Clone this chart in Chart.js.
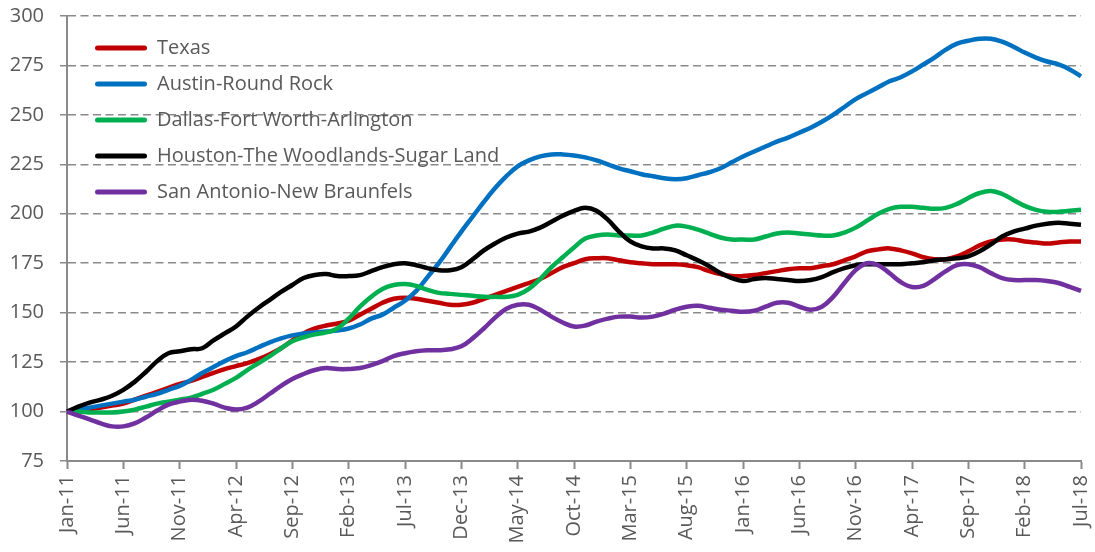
<!DOCTYPE html>
<html>
<head>
<meta charset="utf-8">
<script src="https://cdn.jsdelivr.net/npm/chart.js@4.4.0/dist/chart.umd.min.js"></script>
<style>
  html, body { margin: 0; padding: 0; background: #fff; }
  canvas { display: block; }
</style>
</head>
<body>
<canvas id="chart" width="1095" height="552"></canvas>
<script>
// months Jan-11 .. Jul-18
const monthNames = ['Jan', 'Feb', 'Mar', 'Apr', 'May', 'Jun', 'Jul', 'Aug', 'Sep', 'Oct', 'Nov', 'Dec'];
const labels = [];
for (let y = 11; y <= 18; y++) {
  monthNames.forEach((m, i) => {
    if (y === 18 && i > 6) return;
    labels.push(m + '-' + y);
  });
}

const seriesNames = ['Texas', 'Austin-Round Rock', 'Dallas-Fort Worth-Arlington', 'Houston-The Woodlands-Sugar Land', 'San Antonio-New Braunfels'];
const seriesColors = ['#C00000', '#0070C0', '#00B050', '#000000', '#7030A0'];

const texas = [
  100, 100, 101, 102, 103, 104, 106, 108, 110, 112,
  114, 115.5, 117.5, 119.5, 121.5, 123, 124.5, 126.5, 129, 132,
  136, 139.5, 142, 143.5, 144.5, 146, 149, 152, 155, 157,
  157.5, 157, 156, 155, 154, 154, 155, 157, 159, 161,
  163, 165, 167, 170, 173, 175, 177, 177.5, 177.5, 176.5,
  175.5, 175, 174.5, 174.5, 174.5, 174, 173, 171, 169.5, 168.5,
  168.5, 169, 170, 171, 172, 172.5, 172.5, 173.5, 174.5, 176.5,
  178.5, 181, 182, 182.5, 181.5, 180, 178, 177, 177, 178.5,
  181, 184, 186, 187, 187, 186, 185.5, 185, 185.5, 186, 186
];
const austin = [
  100, 101, 102, 103, 104, 105, 106, 107.5, 109, 111,
  113, 116, 119.5, 122.5, 125.5, 128, 130, 132.5, 135, 137,
  138.5, 139.5, 140, 140.5, 141, 142, 144, 147, 149, 152.5,
  156, 161, 168, 175, 183, 191, 198.5, 206, 213, 219,
  224, 227, 229, 230, 230, 229.5, 228.5, 227, 225, 223,
  221.5, 220, 219, 218, 217.5, 218, 219.5, 221, 223, 226,
  229, 231.5, 234, 236.5, 238.5, 241, 243.5, 246.5, 250, 254,
  258, 261, 264, 267, 269, 272, 275.5, 279, 283, 286,
  287.5, 288.5, 288.5, 287, 284.5, 281.5, 279, 277, 275.5, 273, 269.5
];
const dallas = [
  100, 100, 99.5, 99.5, 99.5, 100, 101, 102.5, 104, 105,
  106, 107, 109, 111, 114, 117, 121, 124.5, 128, 132,
  135.5, 137.5, 139, 140, 142, 147, 153, 158, 162, 164,
  164.5, 163.5, 161.5, 160, 159.5, 159, 158.5, 158, 158, 158,
  159, 162, 167, 173, 178, 183, 187.5, 189, 189.5, 189,
  189, 189, 190.5, 192.5, 194, 193.5, 192, 190, 188, 187,
  187, 187, 188.5, 190, 190.5, 190, 189.5, 189, 189, 190.5,
  193, 196.5, 200, 202.5, 203.5, 203.5, 203, 202.5, 203, 205,
  208, 210.5, 211.5, 210, 207, 204, 202, 201, 201, 201.5, 202
];
const houston = [
  100, 102.5, 104.5, 106, 108, 111, 115, 120, 125.5, 129.5,
  130.5, 131.5, 132, 136, 139.5, 143, 148, 152.5, 156.5, 160.5,
  164, 167.5, 169, 169.5, 168.5, 168.5, 169, 171, 173, 174.5,
  175, 174, 172.5, 171.5, 171.5, 173, 177, 181.5, 185, 188,
  190, 191, 193, 196, 199, 201.5, 203, 201.5, 197, 191,
  186, 183.5, 182.5, 182.5, 181.5, 179, 176.5, 173.5, 170, 167.5,
  166, 167, 167.5, 167, 166.5, 166, 166.5, 168, 170.5, 172.5,
  174, 174.5, 174.5, 174.5, 174.5, 175, 175.5, 176.5, 177, 177.5,
  178.5, 181, 184.5, 188.5, 191, 192.5, 194, 195, 195.5, 195, 194.5
];
const sanAntonio = [
  100, 98, 96, 94, 92.5, 92.5, 94, 97, 100.5, 103.5,
  105, 106, 105.5, 104, 102, 101, 102, 105, 109, 113,
  116.5, 119, 121, 122, 121.5, 121.5, 122, 123.5, 125.5, 128,
  129.5, 130.5, 131, 131, 131.5, 133, 137, 142, 147.5, 152,
  154, 154, 151.5, 148, 145, 143, 143.5, 145.5, 147, 148,
  148, 147.5, 148, 149.5, 151.5, 153, 153.5, 152.5, 151.5, 151,
  150.5, 151, 153, 155, 155, 153, 151.5, 153, 158, 165,
  171.5, 175, 174, 170, 165.5, 163, 163.5, 167, 171, 174,
  174.5, 173, 170, 167.5, 166.5, 166.5, 166.5, 166, 165, 163, 161
];
const seriesValues = [texas, austin, dallas, houston, sanAntonio];

const TEXT = '#595959';
const AXIS = '#8a8a8a';
const FONT = { family: '"Open Sans", sans-serif', size: 20 };

// last series on top, like the original
const datasets = seriesNames.map((name, i) => ({
  label: name,
  data: seriesValues[i],
  borderColor: seriesColors[i],
  backgroundColor: seriesColors[i],
  borderWidth: 4.5,
  pointRadius: 0,
  tension: 0.4,
  fill: false,
  order: seriesNames.length - i
}));

// move the legend a bit inside the plot
const legendShift = {
  id: 'legendShift',
  afterLayout(chart) {
    chart.legend.left = 79;
    chart.legend.top = 22;
  }
};

new Chart(document.getElementById('chart'), {
  type: 'line',
  data: { labels: labels, datasets: datasets },
  options: {
    responsive: false,
    animation: false,
    layout: { padding: { top: 16, right: 14, left: 0, bottom: 0 } },
    plugins: {
      tooltip: { enabled: false },
      legend: {
        position: 'chartArea',
        align: 'start',
        labels: {
          color: TEXT,
          font: FONT,
          boxWidth: 52,
          boxHeight: 5,
          padding: 16,
          useBorderRadius: true,
          borderRadius: 2.5,
          sort: (a, b) => a.datasetIndex - b.datasetIndex,
          generateLabels: chart =>
            Chart.defaults.plugins.legend.labels.generateLabels(chart).map(l => ({ ...l, lineWidth: 0 }))
        }
      }
    },
    scales: {
      x: {
        afterFit: s => {
          s.height = 91;
          s.paddingLeft = 0;
          s.paddingRight = 0;
        },
        grid: {
          drawOnChartArea: false,
          tickLength: 8,
          tickWidth: 2,
          color: ctx => (ctx.index % 5 === 0 ? AXIS : 'rgba(0,0,0,0)')
        },
        border: { color: AXIS, width: 2 },
        ticks: {
          autoSkip: false,
          maxRotation: 90,
          minRotation: 90,
          padding: 6,
          color: TEXT,
          font: FONT,
          callback: (v, i) => (i % 5 === 0 ? labels[i] : '')
        }
      },
      y: {
        min: 75,
        max: 300,
        afterFit: s => {
          s.width = 67;
          s.paddingTop = 0;
          s.paddingBottom = 0;
        },
        grid: {
          color: AXIS,
          lineWidth: 1.5,
          tickLength: 7
        },
        border: { color: AXIS, width: 2, dash: [8, 4.5] },
        ticks: {
          stepSize: 25,
          padding: 16,
          color: TEXT,
          font: FONT
        }
      }
    }
  },
  plugins: [legendShift]
});
</script>
</body>
</html>
